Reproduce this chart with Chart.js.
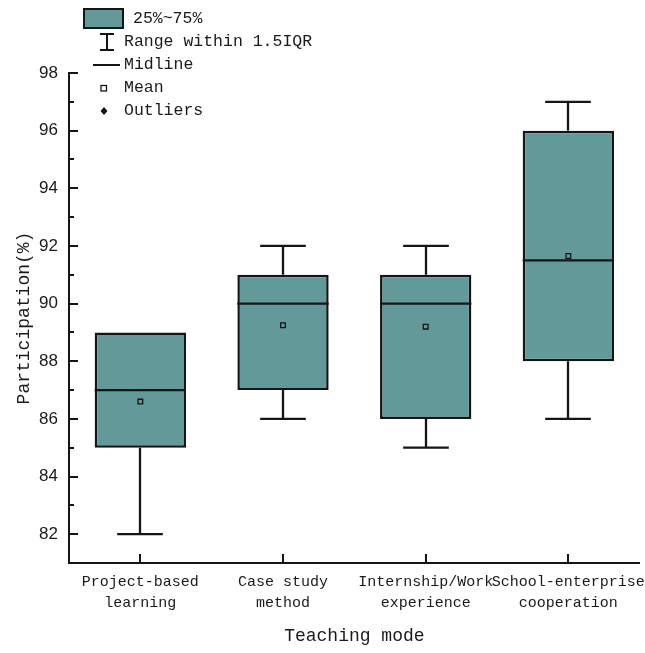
<!DOCTYPE html>
<html>
<head>
<meta charset="utf-8">
<script src="https://cdn.jsdelivr.net/npm/chart.js@4/dist/chart.umd.min.js"></script>
<style>
  body { margin: 0; background: #fff; }
  canvas { display: block; }
</style>
</head>
<body>
<canvas id="myChart" width="645" height="653"></canvas>
<script>
// datos
const categorias = [["Project-based", "learning"], ["Case study", "method"], ["Internship/Work", "experience"], ["School-enterprise", "cooperation"]];
const q1 = [85, 87, 86, 88];
const q3 = [89, 91, 91, 96];
const mediana = [87, 90, 90, 91.5];
const media = [86.6, 89.25, 89.2, 91.65];
const bigoteMin = [82, 86, 85, 86];
const bigoteMax = [89, 92, 92, 97];
const ticksY = [82, 84, 86, 88, 90, 92, 94, 96, 98];
const ticksMenores = [83, 85, 87, 89, 91, 93, 95, 97];

const colorCaja = "#639999";
const colorLinea = "#151515";
const fuenteMono = "'Liberation Mono', 'DejaVu Sans Mono', monospace";

function linea(ctx, x1, y1, x2, y2) {
  ctx.beginPath();
  ctx.moveTo(x1, y1);
  ctx.lineTo(x2, y2);
  ctx.stroke();
}

// Plugin que dibuja bigotes, medianas, ticks hacia dentro y la leyenda
const extrasCaja = {
  id: "extrasCaja",
  beforeDatasetsDraw(chart) {
    const ctx = chart.ctx;
    const y = chart.scales.y;
    const meta = chart.getDatasetMeta(1);
    ctx.save();
    ctx.strokeStyle = colorLinea;
    ctx.lineWidth = 2.3;
    meta.data.forEach((bar, i) => {
      const cx = Math.round(bar.x);
      const half = bar.width / 4;
      [[bigoteMin[i], q1[i]], [bigoteMax[i], q3[i]]].forEach(([fin, borde]) => {
        if (fin === borde) return;
        const yFin = y.getPixelForValue(fin);
        const yBorde = y.getPixelForValue(borde);
        linea(ctx, cx, yBorde, cx, yFin);
        linea(ctx, cx - half, yFin, cx + half, yFin);
      });
    });
    ctx.restore();
  },
  afterDatasetsDraw(chart) {
    const ctx = chart.ctx;
    const y = chart.scales.y;
    const meta = chart.getDatasetMeta(1);
    ctx.save();
    ctx.strokeStyle = colorLinea;
    ctx.lineWidth = 2.3;
    meta.data.forEach((bar, i) => {
      const ym = y.getPixelForValue(mediana[i]);
      linea(ctx, bar.x - bar.width / 2, ym, bar.x + bar.width / 2, ym);
    });
    ctx.restore();
  },
  afterDraw(chart) {
    const ctx = chart.ctx;
    const { x, y } = chart.scales;
    const area = chart.chartArea;
    ctx.save();
    ctx.strokeStyle = colorLinea;
    ctx.lineWidth = 2;
    // ticks del eje Y hacia dentro
    ticksY.forEach(v => {
      const py = Math.round(y.getPixelForValue(v));
      linea(ctx, area.left, py, area.left + 9, py);
    });
    ticksMenores.forEach(v => {
      const py = Math.round(y.getPixelForValue(v));
      linea(ctx, area.left, py, area.left + 5, py);
    });
    // ticks del eje X hacia dentro
    categorias.forEach((c, i) => {
      const px = Math.round(x.getPixelForValue(i));
      linea(ctx, px, area.bottom, px, area.bottom - 9);
    });

    // leyenda
    ctx.fillStyle = colorCaja;
    ctx.fillRect(84, 9, 39, 19);
    ctx.strokeRect(84, 9, 39, 19);
    linea(ctx, 107, 33, 107, 51);
    linea(ctx, 100, 34, 114, 34);
    linea(ctx, 100, 50, 114, 50);
    linea(ctx, 93, 65, 120, 65);
    ctx.lineWidth = 1.3;
    ctx.strokeRect(101, 85.5, 5.5, 5.5);
    ctx.fillStyle = colorLinea;
    ctx.beginPath();
    ctx.moveTo(104, 107);
    ctx.lineTo(107.5, 111);
    ctx.lineTo(104, 115);
    ctx.lineTo(100.5, 111);
    ctx.closePath();
    ctx.fill();

    ctx.font = "16.5px " + fuenteMono;
    ctx.textBaseline = "middle";
    ctx.textAlign = "left";
    ctx.fillStyle = "#1a1a1a";
    ctx.fillText("25%~75%", 133, 19);
    ctx.fillText("Range within 1.5IQR", 124, 42);
    ctx.fillText("Midline", 124, 65);
    ctx.fillText("Mean", 124, 88);
    ctx.fillText("Outliers", 124, 111);
    ctx.restore();
  }
};

const config = {
  type: "bar",
  data: {
    labels: categorias,
    datasets: [
      {
        type: "line",
        label: "Mean",
        data: media,
        showLine: false,
        pointStyle: "rect",
        pointRadius: 3.3,
        pointBorderWidth: 1.3,
        pointBackgroundColor: "rgba(0,0,0,0)",
        pointBorderColor: colorLinea,
        order: 0
      },
      {
        label: "25%~75%",
        data: q1.map((v, i) => [v, q3[i]]),
        backgroundColor: colorCaja,
        borderColor: colorLinea,
        borderWidth: 2.5,
        borderSkipped: false,
        categoryPercentage: 1,
        barPercentage: 0.64,
        order: 1
      }
    ]
  },
  options: {
    responsive: false,
    animation: false,
    events: [],
    layout: { padding: { top: 73, right: 4, left: 0, bottom: 0 } },
    plugins: {
      legend: { display: false },
      tooltip: { enabled: false }
    },
    scales: {
      x: {
        offset: true,
        grid: { display: false, drawTicks: false },
        border: { display: true, color: colorLinea, width: 2 },
        ticks: {
          color: "#1a1a1a",
          padding: 9,
          maxRotation: 0,
          autoSkip: false,
          font: { family: fuenteMono, size: 15, lineHeight: 1.4 }
        },
        title: {
          display: true,
          text: "Teaching mode",
          color: "#1a1a1a",
          padding: { top: 4, bottom: 6 },
          font: { family: fuenteMono, size: 18 }
        },
        afterFit: (scale) => {
          scale.height = 90;
          scale.paddingLeft = 0;
          scale.paddingRight = 0;
        }
      },
      y: {
        min: 81,
        max: 98,
        grid: { display: false, drawTicks: false },
        border: { display: true, color: colorLinea, width: 2 },
        afterBuildTicks: (scale) => { scale.ticks = ticksY.map(v => ({ value: v })); },
        ticks: {
          color: "#1a1a1a",
          padding: 11,
          font: { family: "'Liberation Sans', Arial, sans-serif", size: 17 }
        },
        title: {
          display: true,
          text: "Participation(%)",
          color: "#1a1a1a",
          padding: { top: 13, bottom: 0 },
          font: { family: fuenteMono, size: 18 }
        },
        afterFit: (scale) => { scale.width = 69; }
      }
    }
  },
  plugins: [extrasCaja]
};

new Chart(document.getElementById("myChart").getContext("2d"), config);
</script>
</body>
</html>
